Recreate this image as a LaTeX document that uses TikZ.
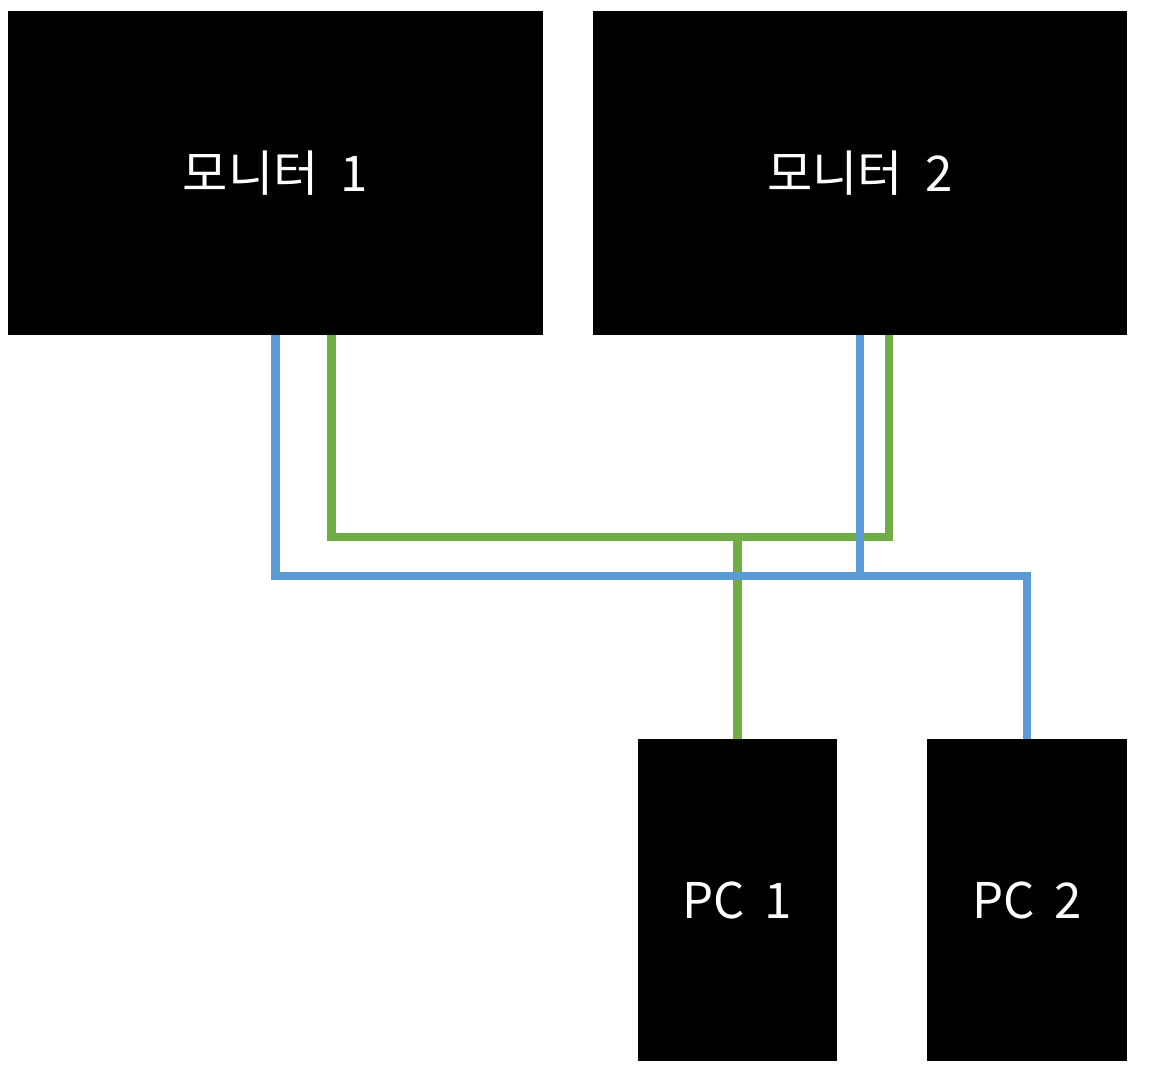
\documentclass[tikz,border=0pt]{standalone}
\usepackage{fontspec}
\usepackage{xcolor}
\usetikzlibrary{calc,positioning}
\setmainfont{Noto Sans CJK KR}
\definecolor{wireBlue}{RGB}{91,155,213}
\definecolor{wireGreen}{RGB}{112,173,71}

\begin{document}
\begin{tikzpicture}[x=0.02cm,y=-0.02cm,
    box/.style={fill=black, text=white, inner sep=0pt, font=\fontsize{28}{33}\selectfont},
    monbox/.style={box, minimum width=10.7cm, minimum height=6.48cm},
    pcbox/.style={box, minimum width=4cm, minimum height=6.44cm},
    bluewire/.style={wireBlue, line width=4.8pt},
    greenwire/.style={wireGreen, line width=4.8pt}]

    \useasboundingbox (0,0) rectangle (1155,1085);

    % monitors
    \node[monbox] (mon1) at (275.5,173) {모니터\ \ 1};
    \node[monbox] (mon2) at (860,173) {모니터\ \ 2};

    % pcs
    \node[pcbox] (pc1) at (737.5,900) {PC\hspace{0.4em}1};
    \node[pcbox] (pc2) at (1027,900) {PC\hspace{0.4em}2};

    % junctions
    \coordinate (gport1) at ($(mon1.south)+(56,0)$);
    \coordinate (gport2) at ($(mon2.south)+(29,0)$);
    \coordinate (gjoin) at (737.5,537);
    \coordinate (bjoin) at (860,576);

    % green cables
    \draw[greenwire] (gport1) |- (gjoin) -| (gport2);
    \draw[greenwire] (pc1.north) -- (gjoin);

    % blue cables
    \draw[bluewire] (mon1.south) |- (bjoin) -| (pc2.north);
    \draw[bluewire] (mon2.south) -- (bjoin);

\end{tikzpicture}
\end{document}
